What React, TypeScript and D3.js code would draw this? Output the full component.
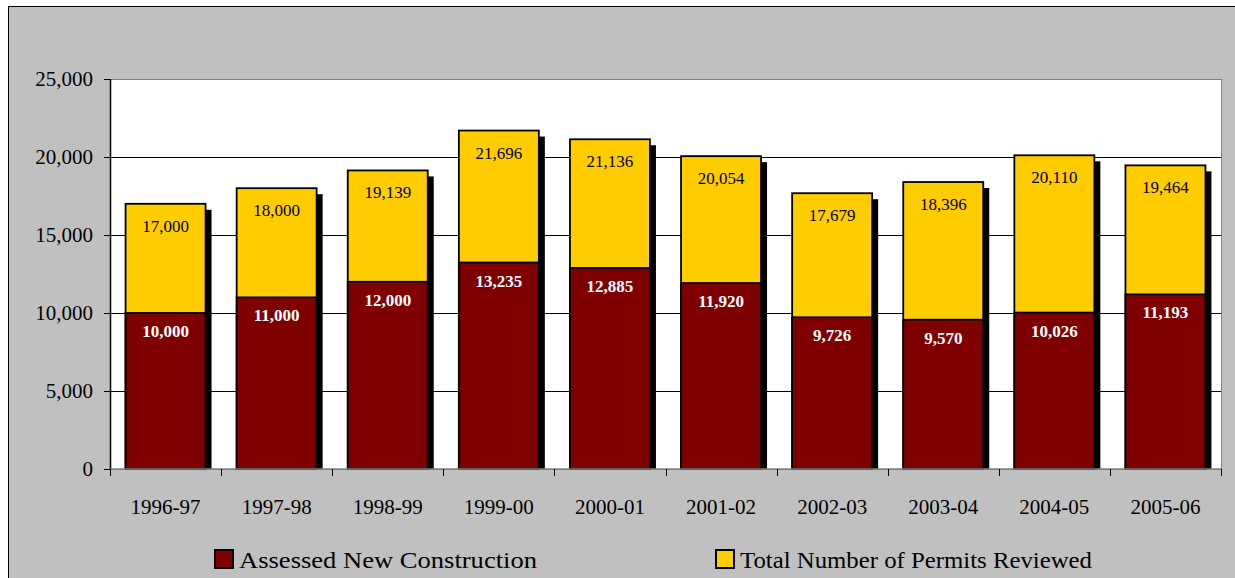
import React from "react";
import * as d3 from "d3";

const categories = ["1996-97", "1997-98", "1998-99", "1999-00", "2000-01", "2001-02", "2002-03", "2003-04", "2004-05", "2005-06"];
const totalPermits = [17000, 18000, 19139, 21696, 21136, 20054, 17679, 18396, 20110, 19464];
const assessedNew = [10000, 11000, 12000, 13235, 12885, 11920, 9726, 9570, 10026, 11193];
const yTicks = [0, 5000, 10000, 15000, 20000, 25000];
const seriesNames = ["Assessed New Construction", "Total Number of Permits Reviewed"];

const FONT = "'Liberation Serif', 'Times New Roman', serif";
const RED = "#7f0000";
const YELLOW = "#ffcc00";

export default function App() {
  const W = 1235, H = 578;
  const left = 110, right = 1221, top = 79, bottom = 469;
  const x = d3.scaleBand<string>().domain(categories).range([left, right]).paddingInner(0.28).paddingOuter(0.14);
  const y = d3.scaleLinear().domain([0, 25000]).range([bottom, top]);
  const fmt = d3.format(",");
  const step = x.step();
  const bw = x.bandwidth();

  return (
    <svg width={W} height={H} style={{ position: "absolute", left: 0, top: 0 }} fontFamily={FONT}>
      <rect x={8.5} y={6.5} width={W + 10} height={H + 10} fill="#c0c0c0" stroke="#000" strokeWidth={1} />
      <rect x={left + 0.5} y={top + 0.5} width={right - left} height={bottom - top} fill="#fff" stroke="#808080" strokeWidth={1} />
      {yTicks.map((t) => (
        <g key={t}>
          {t > 0 && t < 25000 && <line x1={left} x2={right} y1={Math.round(y(t)) + 0.5} y2={Math.round(y(t)) + 0.5} stroke="#000" strokeWidth={1} />}
          <line x1={left - 6} x2={left} y1={Math.round(y(t)) + 0.5} y2={Math.round(y(t)) + 0.5} stroke="#000" strokeWidth={1} />
          <text x={left - 17} y={y(t) + 7} textAnchor="end" fontSize={21} fill="#000">{fmt(t)}</text>
        </g>
      ))}
      {categories.map((c, i) => {
        const bx = x(c)!;
        const tt = y(totalPermits[i]);
        const ta = y(assessedNew[i]);
        return (
          <g key={c}>
            <rect x={bx + 6} y={tt + 6} width={bw} height={bottom - tt - 6} fill="#000" />
            <rect x={bx} y={tt} width={bw} height={bottom - tt} fill={YELLOW} stroke="#000" strokeWidth={1.8} />
            <rect x={bx} y={ta} width={bw} height={bottom - ta} fill={RED} stroke="#000" strokeWidth={1.8} />
            <text x={bx + bw / 2} y={tt + 28} textAnchor="middle" fontSize={17} fill="#000">{fmt(totalPermits[i])}</text>
            <text x={bx + bw / 2} y={ta + 24} textAnchor="middle" fontSize={17} fontWeight="bold" fill="#fff">{fmt(assessedNew[i])}</text>
            <text x={bx + bw / 2} y={514} textAnchor="middle" fontSize={21} fill="#000">{c}</text>
          </g>
        );
      })}
      <line x1={left + 0.5} x2={left + 0.5} y1={top} y2={bottom} stroke="#000" strokeWidth={1.5} />
      <line x1={left} x2={right} y1={bottom} y2={bottom} stroke="#808080" strokeWidth={1.5} />
      {d3.range(categories.length + 1).map((k) => (
        <line key={k} x1={Math.round(left + k * step) + 0.5} x2={Math.round(left + k * step) + 0.5} y1={bottom} y2={bottom + 7} stroke="#000" strokeWidth={1} />
      ))}
      <g>
        <rect x={215} y={550} width={18} height={18} fill={RED} stroke="#000" strokeWidth={2} />
        <text x={239} y={568} fontSize={24} fill="#000" textLength={298} lengthAdjust="spacingAndGlyphs">{seriesNames[0]}</text>
        <rect x={716} y={550} width={18} height={18} fill={YELLOW} stroke="#000" strokeWidth={2} />
        <text x={740} y={568} fontSize={24} fill="#000" textLength={352} lengthAdjust="spacingAndGlyphs">{seriesNames[1]}</text>
      </g>
    </svg>
  );
}
